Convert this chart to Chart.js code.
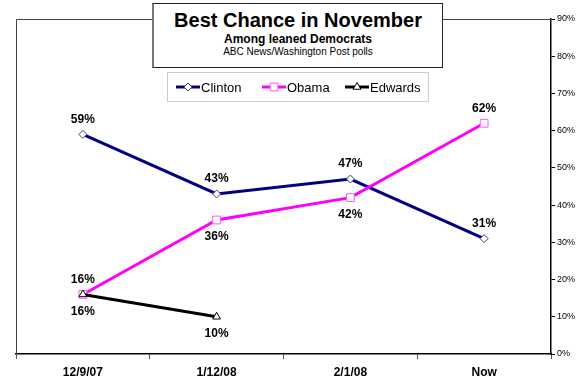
<!DOCTYPE html>
<html><head><meta charset="utf-8">
<script src="https://cdn.jsdelivr.net/npm/chart.js@4/dist/chart.umd.min.js"></script>
<style>
html,body{margin:0;padding:0;background:#fff;}
#wrap{position:relative;width:587px;height:380px;overflow:hidden;}
#c{position:absolute;left:0;top:0;}
#title{position:absolute;left:152px;top:3px;width:288px;height:63px;border:1px solid #222;border-left:2px solid #777;background:#fff;font-family:Arial,'Liberation Sans',sans-serif;color:#000;}
#title div{position:absolute;left:0;right:0;text-align:center;white-space:nowrap;}
#t1{top:6px;font-size:20px;line-height:20px;font-weight:bold;}
#t2{top:29px;font-size:12px;line-height:12px;font-weight:bold;}
#t3{top:43px;font-size:10px;line-height:10px;}
</style></head>
<body>
<div id="wrap">
<canvas id="c" width="587" height="380"></canvas>
<div id="title"><div id="t1">Best Chance in November</div><div id="t2">Among leaned Democrats</div><div id="t3">ABC News/Washington Post polls</div></div>
</div>
<script>
const categories = ['12/9/07', '1/12/08', '2/1/08', 'Now'];
const clinton = [59, 43, 47, 31];
const obama = [16, 36, 42, 62];
const edwards = [16, 10, null, null];
const yTicks = [0, 10, 20, 30, 40, 50, 60, 70, 80, 90];

const FONT = "Arial, 'Liberation Sans', sans-serif";

const frame = {
  id: 'frame',
  beforeDatasetsDraw(chart) {
    const a = chart.chartArea, ctx = chart.ctx;
    ctx.save();
    ctx.strokeStyle = '#444';
    ctx.lineWidth = 1;
    ctx.beginPath();
    ctx.moveTo(Math.round(a.left) + 0.5, a.bottom);
    ctx.lineTo(Math.round(a.left) + 0.5, Math.round(a.top) + 0.5);
    ctx.lineTo(a.right, Math.round(a.top) + 0.5);
    ctx.stroke();
    ctx.restore();
  }
};

const dataLabels = {
  id: 'dataLabels',
  afterDatasetsDraw(chart) {
    const ctx = chart.ctx;
    ctx.save();
    ctx.font = 'bold 12px ' + FONT;
    ctx.fillStyle = '#000';
    ctx.textAlign = 'center';
    ctx.textBaseline = 'middle';
    chart.data.datasets.forEach((ds, di) => {
      const meta = chart.getDatasetMeta(di);
      meta.data.forEach((pt, i) => {
        const v = ds.data[i];
        if (v == null) return;
        const dy = ds.labelPos[i] === 'above' ? -15 : 17;
        ctx.fillText(v + '%', pt.x, pt.y + dy);
      });
    });
    ctx.restore();
  }
};

const customLegend = {
  id: 'customLegend',
  afterDraw(chart) {
    const ctx = chart.ctx;
    const bx = 167, by = 72, bw = 261, bh = 29;
    ctx.save();
    ctx.fillStyle = '#fff';
    ctx.fillRect(bx, by, bw, bh);
    ctx.strokeStyle = '#9a9a9a';
    ctx.setLineDash([1, 1]);
    ctx.lineWidth = 1;
    ctx.strokeRect(bx + 0.5, by + 0.5, bw, bh);
    ctx.setLineDash([]);
    const starts = [176, 262, 345];
    const cy = by + 15;
    chart.data.datasets.forEach((ds, i) => {
      const x0 = starts[i];
      ctx.strokeStyle = ds.borderColor;
      ctx.lineWidth = 3;
      ctx.beginPath();
      ctx.moveTo(x0, cy);
      ctx.lineTo(x0 + 24, cy);
      ctx.stroke();
      ctx.fillStyle = ds.pointBackgroundColor;
      ctx.strokeStyle = ds.pointBorderColor;
      ctx.lineWidth = 1;
      Chart.helpers.drawPoint(ctx, {
        pointStyle: ds.pointStyle, radius: ds.pointRadius, rotation: 0,
        borderWidth: 1
      }, x0 + 12, cy);
      ctx.fillStyle = '#000';
      ctx.font = '13px ' + FONT;
      ctx.textAlign = 'left';
      ctx.textBaseline = 'middle';
      ctx.fillText(ds.label, x0 + 25, cy + 1);
    });
    ctx.restore();
  }
};

new Chart(document.getElementById('c'), {
  type: 'line',
  data: {
    labels: categories,
    datasets: [
      {
        label: 'Clinton', data: clinton, borderColor: '#000080', borderWidth: 3,
        pointStyle: 'rectRot', pointRadius: 4, pointBackgroundColor: '#fff',
        pointBorderColor: '#3b3b8a', pointBorderWidth: 1, order: 2,
        labelPos: ['above', 'above', 'above', 'above'], tension: 0
      },
      {
        label: 'Obama', data: obama, borderColor: '#ff00ff', borderWidth: 3,
        pointStyle: 'rect', pointRadius: 5.5, pointBackgroundColor: '#fff',
        pointBorderColor: '#ff55ff', pointBorderWidth: 1, order: 1,
        labelPos: ['above', 'below', 'below', 'above'], tension: 0
      },
      {
        label: 'Edwards', data: edwards, borderColor: '#000000', borderWidth: 3,
        pointStyle: 'triangle', pointRadius: 4.5, pointBackgroundColor: '#fff',
        pointBorderColor: '#000', pointBorderWidth: 1, order: 0,
        labelPos: ['below', 'below', 'below', 'below'], tension: 0
      }
    ]
  },
  options: {
    responsive: false,
    animation: false,
    events: [],
    layout: { padding: { left: 16, top: 19, right: 0, bottom: 0 } },
    plugins: { legend: { display: false }, title: { display: false }, tooltip: { enabled: false } },
    scales: {
      x: {
        offset: true,
        grid: { offset: true, drawOnChartArea: false, drawTicks: true, tickLength: 5, color: '#555' },
        border: { display: true, color: '#000', width: 1.5 },
        ticks: { color: '#000', font: { family: FONT, size: 12, weight: 'bold' }, padding: 6, maxRotation: 0 },
        afterFit(s) { s.height = 26; }
      },
      y: {
        position: 'right',
        min: 0, max: 90,
        afterBuildTicks(s) { s.ticks = yTicks.map(v => ({ value: v })); },
        grid: { drawOnChartArea: false, drawTicks: true, tickLength: 4, color: '#000' },
        border: { display: true, color: '#000', width: 1.5 },
        ticks: { color: '#000', font: { family: FONT, size: 9 }, padding: 2, callback: v => v + '%' },
        afterFit(s) { s.width = 36; }
      }
    }
  },
  plugins: [frame, dataLabels, customLegend]
});
</script>
</body></html>
